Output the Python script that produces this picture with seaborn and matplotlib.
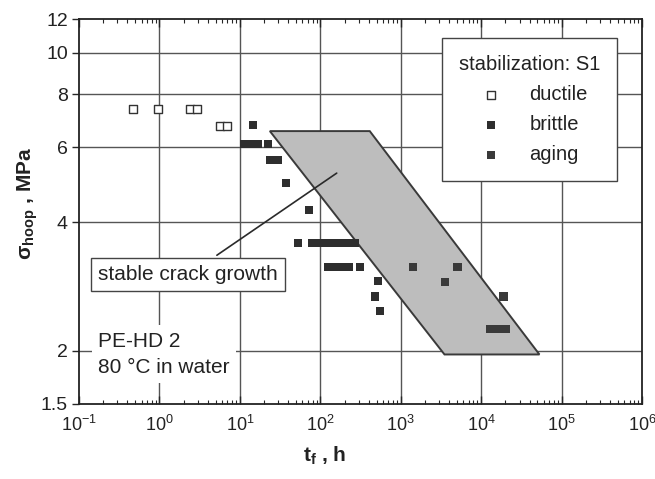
import numpy as np
import pandas as pd
import matplotlib
matplotlib.use("Agg")
import matplotlib.pyplot as plt
import seaborn as sns
from matplotlib.patches import Polygon
from matplotlib.ticker import FixedLocator, FixedFormatter, LogLocator, NullFormatter

# ---- data ----
ductile_t = [0.47, 0.96, 2.4, 2.9, 5.6, 6.9]
ductile_s = [7.38, 7.38, 7.38, 7.38, 6.73, 6.73]

brittle_t = [14.5, 11.2, 13.7, 16.7, 22.3, 23.6, 29.7, 37.2, 71.9,
             52.5, 78.3, 98.6, 120, 147, 180, 220, 269,
             124, 151, 185, 226, 310,
             518, 475, 548]
brittle_s = [6.77, 6.11, 6.11, 6.11, 6.11, 5.60, 5.60, 4.95, 4.28,
             3.58, 3.58, 3.58, 3.58, 3.58, 3.58, 3.58, 3.58,
             3.14, 3.14, 3.14, 3.14, 3.14,
             2.91, 2.68, 2.48]

aging_t = [1410, 5100, 3520, 19000, 12800, 16000, 20100]
aging_s = [3.14, 3.14, 2.90, 2.68, 2.25, 2.25, 2.25]

band_t = [23.6, 412, 53000, 3500]
band_s = [6.55, 6.55, 1.96, 1.96]

x_ticks = [1e-1, 1e0, 1e1, 1e2, 1e3, 1e4, 1e5, 1e6]
x_ticklabels = [r'10$^{\mathregular{-1}}$', r'10$^{\mathregular{0}}$', r'10$^{\mathregular{1}}$',
                r'10$^{\mathregular{2}}$', r'10$^{\mathregular{3}}$', r'10$^{\mathregular{4}}$',
                r'10$^{\mathregular{5}}$', r'10$^{\mathregular{6}}$']
y_ticks = [1.5, 2, 4, 6, 8, 10, 12]
y_ticklabels = ["1.5", "2", "4", "6", "8", "10", "12"]
y_grid = [2, 4, 6, 8, 10]

sns.set_style("ticks")
plt.rcParams['font.family'] = ['Liberation Sans', 'DejaVu Sans']
plt.rcParams['mathtext.fontset'] = 'custom'
plt.rcParams['mathtext.rm'] = 'Liberation Sans'
plt.rcParams['mathtext.it'] = 'Liberation Sans:italic'
plt.rcParams['mathtext.bf'] = 'Liberation Sans:bold'

TXT = '#222222'
fig = plt.figure(figsize=(6.55, 4.79), dpi=100)
ax = fig.add_axes([0.1206, 0.1566, 0.8596, 0.8037])
ax.set_xscale('log')
ax.set_yscale('log')
ax.set_xlim(0.1, 1e6)
ax.set_ylim(1.5, 12)

# grid
for g in y_grid:
    ax.axhline(g, color='#555555', lw=1.0, zorder=0.5)
for d in x_ticks[1:-1]:
    ax.axvline(d, color='#555555', lw=1.0, zorder=0.5)

# band
poly = Polygon(list(zip(band_t, band_s)), closed=True, facecolor='#bdbdbd',
               edgecolor='#3a3a3a', lw=1.4, zorder=1)
ax.add_patch(poly)

# annotation line + box
ax.plot([5.18, 160], [3.35, 5.22], color='#2a2a2a', lw=1.2, zorder=2)
ax.text(2.26, 3.02, 'stable crack growth', ha='center', va='center',
        fontsize=15, color=TXT, zorder=4,
        bbox=dict(boxstyle='square,pad=0.33', fc='white', ec='#444444', lw=1.0))
ax.text(0.172, 1.96, 'PE-HD 2\n80 °C in water', ha='left', va='center',
        fontsize=15, color=TXT, linespacing=1.5, zorder=4,
        bbox=dict(boxstyle='square,pad=0.3', fc='white', ec='none'))

# points
sns.scatterplot(x=ductile_t, y=ductile_s, marker='s', s=28, color='white',
                edgecolor='#333333', linewidth=1.0, label='ductile', ax=ax, zorder=3)
sns.scatterplot(x=brittle_t, y=brittle_s, marker='s', s=36, color='#2e2e2e',
                edgecolor='none', linewidth=0, label='brittle', ax=ax, zorder=3)
sns.scatterplot(x=aging_t, y=aging_s, marker='s', s=36, color='#3a3a3a',
                edgecolor='none', linewidth=0, label='aging', ax=ax, zorder=3)

# ticks
ax.xaxis.set_major_locator(FixedLocator(x_ticks))
ax.xaxis.set_major_formatter(FixedFormatter(x_ticklabels))
ax.xaxis.set_minor_locator(LogLocator(base=10, subs=np.arange(2, 10), numticks=20))
ax.xaxis.set_minor_formatter(NullFormatter())
ax.yaxis.set_major_locator(FixedLocator(y_ticks))
ax.yaxis.set_major_formatter(FixedFormatter(y_ticklabels))
ax.yaxis.set_minor_locator(FixedLocator([]))
ax.tick_params(axis='x', which='major', direction='in', length=6, width=1.0,
               top=True, labelsize=13, labelcolor=TXT, pad=8)
ax.tick_params(axis='x', which='minor', direction='in', length=3, width=0.8, top=True)
ax.tick_params(axis='y', which='major', direction='out', length=5, width=1.0,
               labelsize=14, labelcolor=TXT, pad=3)
for sp in ax.spines.values():
    sp.set_linewidth(1.3)
    sp.set_color('#222222')

ax.set_xlabel(r'$\mathbf{t_f}$ , h', fontsize=15, fontweight='bold', color=TXT)
ax.xaxis.set_label_coords(0.437, -0.105)
ax.set_ylabel(r'$\mathregular{\sigma_{hoop}}$ , MPa', fontsize=15, fontweight='bold', color=TXT)
ax.yaxis.set_label_coords(-0.07, 0.52)

leg = ax.legend(title='stabilization: S1', loc='upper right',
                bbox_to_anchor=(0.956, 0.951), borderaxespad=0,
                frameon=True, fancybox=False, framealpha=1, edgecolor='#444444',
                fontsize=14.5, title_fontsize=14.5, handletextpad=0.9,
                labelspacing=0.55, borderpad=0.85, handlelength=2.0)
leg.get_frame().set_linewidth(1.0)
leg.set_zorder(5)
for t in leg.get_texts():
    t.set_color(TXT)
leg.get_title().set_color(TXT)

fig.savefig('out.png', dpi=100)
